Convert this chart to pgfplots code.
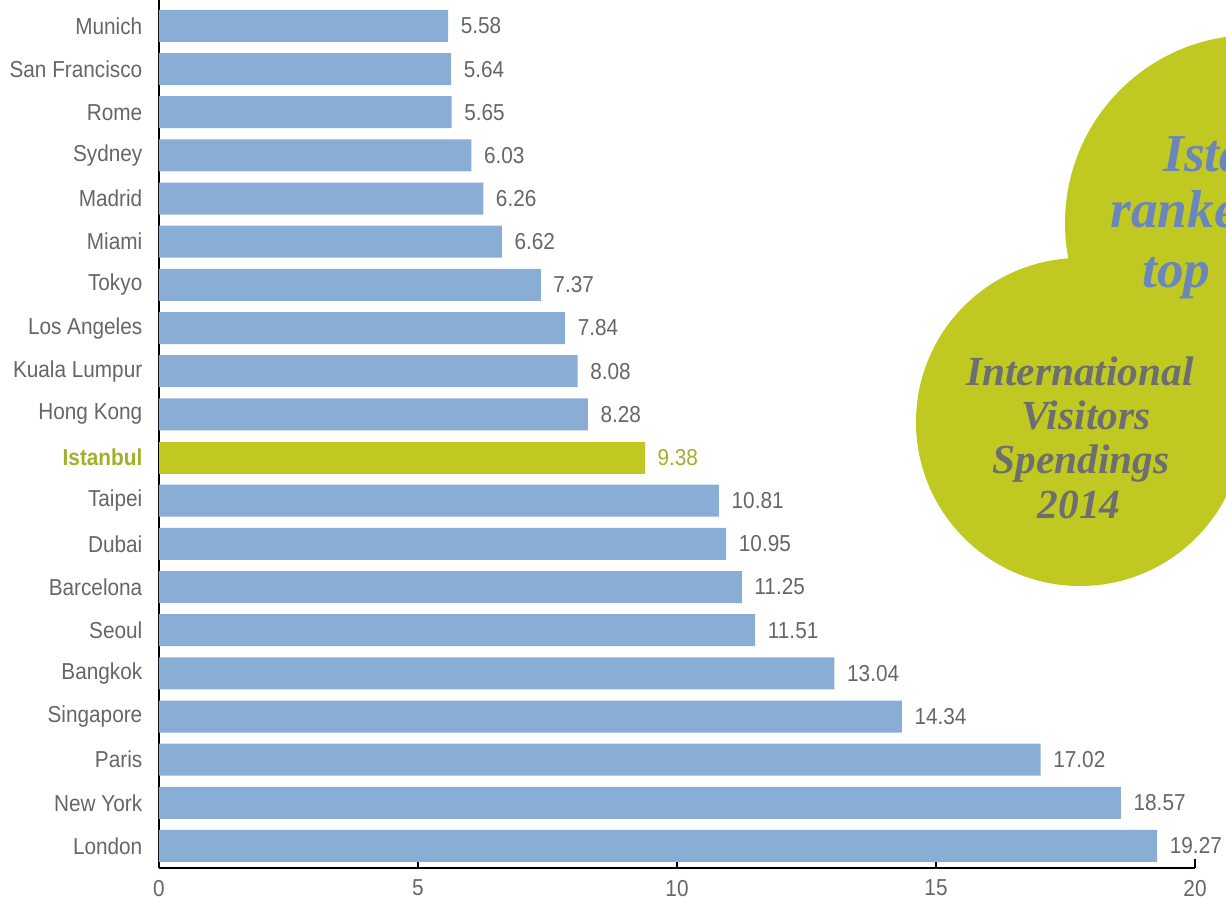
\documentclass[border=0pt]{standalone}
\usepackage{pgfplots}
\pgfplotsset{compat=1.18}
\usepackage{fontspec}
\setmainfont{Liberation Sans}[FakeStretch=0.9]
\newfontfamily\circfont{Liberation Serif}
\definecolor{barblue}{HTML}{8AADD6}
\definecolor{oliv}{HTML}{BFC922}
\definecolor{istext}{HTML}{A4AE2B}
\definecolor{labgray}{HTML}{666666}
\definecolor{txtblue}{HTML}{6A86BA}
\definecolor{txtgray}{HTML}{6D6E70}
\begin{document}
\begin{tikzpicture}
\path[use as bounding box] (-119.25pt,-24.75pt) rectangle (800.25pt,651pt);
\begin{scope}
\clip (-119.25pt,-24.75pt) rectangle (800.25pt,651pt);
\begin{scope}[x=0.75pt,y=0.75pt,shift={(-159,-33)}]
\fill[oliv] (1253,678) circle[radius=188];
\fill[oliv] (1080,479) circle[radius=164];
\end{scope}
\begin{axis}[
  anchor=south west,
  width=777pt, height=651pt, scale only axis,
  xmin=0, xmax=20, ymin=-0.51, ymax=19.6,
  xbar, bar width=24pt, bar shift=0pt,
  axis x line*=bottom, axis y line*=left,
  axis line style={black, line width=0.9pt},
  xtick={0,5,10,15,20}, tick align=inside,
  x tick style={black, line width=0.9pt},
  major tick length=6.75pt,
  ytick={0,...,19},
  yticklabels={London,New York,Paris,Singapore,Bangkok,Seoul,Barcelona,Dubai,Taipei,{\color{istext}\bfseries Istanbul},Hong Kong,Kuala Lumpur,Los Angeles,Tokyo,Miami,Madrid,Sydney,Rome,San Francisco,Munich},
  y tick style={draw=none},
  yticklabel style={font=\fontsize{17.3}{20}\selectfont, text=labgray, xshift=-9pt},
  xticklabel style={font=\fontsize{17.3}{20}\selectfont, text=labgray, yshift=-5.5pt},
  /pgf/number format/assume math mode=true,
  nodes near coords={\pgfmathprintnumber[fixed,fixed zerofill,precision=2,assume math mode=true]{\pgfplotspointmeta}},
  point meta=x,
  every node near coord/.append style={anchor=west, xshift=6pt, font=\fontsize{17.3}{20}\selectfont, text=labgray},
  clip=false,
]
\addplot[fill=barblue, draw=none] coordinates {
(19.27,0) (18.57,1) (17.02,2) (14.34,3) (13.04,4) (11.51,5) (11.25,6) (10.95,7) (10.81,8)
(8.28,10) (8.08,11) (7.84,12) (7.37,13) (6.62,14) (6.26,15) (6.03,16) (5.65,17) (5.64,18) (5.58,19)};
\addplot[fill=oliv, draw=none, every node near coord/.append style={text=istext}] coordinates {(9.38,9)};
\end{axis}
\begin{scope}[x=0.75pt,y=0.75pt,shift={(-159,-33)},every node/.style={inner sep=0}]
\node[txtblue, anchor=base west, font=\circfont\bfseries\itshape\fontsize{40}{46}\selectfont] at (1163,729) {Istanbul};
\node[txtblue, anchor=base west, font=\circfont\bfseries\itshape\fontsize{40}{46}\selectfont] at (1110,673) {ranked};
\node[txtblue, anchor=base west, font=\circfont\bfseries\itshape\fontsize{40}{46}\selectfont] at (1142,614) {top};
\node[txtgray, anchor=base, font=\circfont\bfseries\itshape\fontsize{31}{36}\selectfont] at (1080,516) {International};
\node[txtgray, anchor=base, font=\circfont\bfseries\itshape\fontsize{31}{36}\selectfont] at (1086,472) {Visitors};
\node[txtgray, anchor=base, font=\circfont\bfseries\itshape\fontsize{31}{36}\selectfont] at (1081,428) {Spendings};
\node[txtgray, anchor=base, font=\circfont\bfseries\itshape\fontsize{31}{36}\selectfont] at (1079,383) {2014};
\end{scope}
\end{scope}
\end{tikzpicture}
\end{document}
